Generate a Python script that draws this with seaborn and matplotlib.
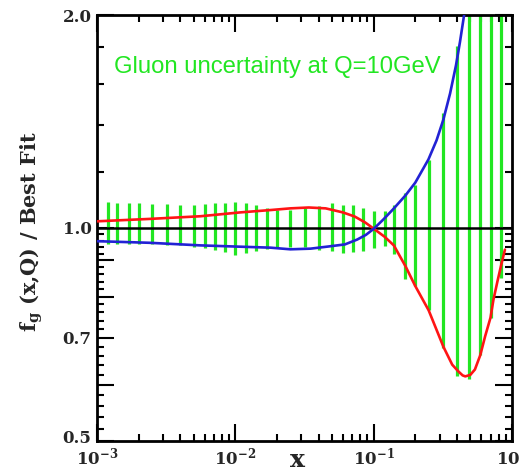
import numpy as np
import pandas as pd
import matplotlib
matplotlib.use("Agg")
import matplotlib.pyplot as plt
import matplotlib.transforms as mtransforms
import seaborn as sns
from matplotlib.ticker import FixedLocator, NullFormatter

# Sampled x-grid with the uncertainty band (lower / upper edge of each bar)
bar_x = [0.0012, 0.0014, 0.0017, 0.0020, 0.0025, 0.0032, 0.0040, 0.0050, 0.0060,
         0.0071, 0.0084, 0.010, 0.012, 0.014, 0.017, 0.020, 0.025, 0.032, 0.040,
         0.050, 0.060, 0.071, 0.084, 0.10, 0.12, 0.14, 0.17, 0.20, 0.25, 0.32,
         0.40, 0.49, 0.59, 0.70, 0.83]
bar_hi = [1.087, 1.085, 1.083, 1.083, 1.080, 1.080, 1.078, 1.078, 1.080, 1.083,
          1.085, 1.087, 1.085, 1.079, 1.068, 1.062, 1.062, 1.068, 1.073, 1.083,
          1.079, 1.076, 1.068, 1.056, 1.056, 1.076, 1.119, 1.152, 1.249, 1.455,
          1.806, 2.6, 3.4, 4.5, 6.0]
bar_lo = [0.948, 0.948, 0.948, 0.948, 0.948, 0.945, 0.945, 0.941, 0.938, 0.932,
          0.924, 0.917, 0.923, 0.927, 0.935, 0.938, 0.941, 0.941, 0.932, 0.927,
          0.923, 0.924, 0.927, 0.938, 0.943, 0.920, 0.846, 0.828, 0.767, 0.677,
          0.618, 0.611, 0.661, 0.747, 0.851]

# Two alternative fits, as ratios to the best fit
red_x = [0.001, 0.0024, 0.0056, 0.0108, 0.0178, 0.025, 0.034, 0.045, 0.060, 0.073,
         0.087, 0.100, 0.120, 0.140, 0.170, 0.200, 0.250, 0.320, 0.370, 0.410,
         0.440, 0.460, 0.500, 0.540, 0.590, 0.640, 0.700, 0.735, 0.785, 0.840, 0.890]
red_y = [1.022, 1.030, 1.039, 1.052, 1.060, 1.066, 1.069, 1.066, 1.052, 1.038,
         1.018, 0.998, 0.972, 0.945, 0.883, 0.828, 0.765, 0.679, 0.641, 0.627,
         0.619, 0.617, 0.620, 0.631, 0.661, 0.703, 0.747, 0.792, 0.840, 0.890, 0.932]

blue_x = [0.001, 0.0024, 0.0056, 0.0108, 0.018, 0.025, 0.035, 0.048, 0.062, 0.076,
          0.088, 0.100, 0.1175, 0.139, 0.170, 0.200, 0.249, 0.285, 0.319, 0.357,
          0.394, 0.421, 0.451, 0.480]
blue_y = [0.958, 0.953, 0.945, 0.941, 0.938, 0.933, 0.935, 0.942, 0.948, 0.963,
          0.978, 0.997, 1.028, 1.064, 1.112, 1.159, 1.250, 1.330, 1.422, 1.549,
          1.698, 1.832, 2.000, 2.180]

y_major = [0.5, 0.6, 0.7, 0.8, 0.9, 1.0, 2.0]
y_major_labels = ["0.5", "", "0.7", "", "", "1.0", "2.0"]
y_minor = [0.52, 0.54, 0.56, 0.58, 0.62, 0.64, 0.66, 0.68, 0.72, 0.74, 0.76, 0.78,
           0.82, 0.84, 0.86, 0.88, 0.92, 0.94, 0.96, 0.98, 1.2, 1.4, 1.6, 1.8]
x_major = [1e-3, 1e-2, 1e-1, 1.0]
x_major_labels = [r"$\mathbf{10^{-3}}$", r"$\mathbf{10^{-2}}$",
                  r"$\mathbf{10^{-1}}$", r"$\mathbf{10^{0}}$"]

GREEN = "#22e622"
RED = "#ff1414"
BLUE = "#2222d4"

sns.set_style("ticks")
plt.rcParams["font.family"] = ["DejaVu Serif"]
plt.rcParams["mathtext.fontset"] = "dejavuserif"

fig = plt.figure(figsize=(5.2, 4.75), dpi=100)
ax = fig.add_axes([0.1865, 0.0716, 0.798, 0.8968])

ax.vlines(bar_x, bar_lo, bar_hi, color=GREEN, lw=2.3, zorder=2)
ax.axhline(1.0, color="black", lw=1.8, zorder=3)

curves = pd.concat([
    pd.DataFrame({"x": red_x, "ratio": red_y, "fit": "red"}),
    pd.DataFrame({"x": blue_x, "ratio": blue_y, "fit": "blue"}),
])
sns.lineplot(data=curves, x="x", y="ratio", hue="fit",
             palette={"red": RED, "blue": BLUE}, lw=1.9, errorbar=None,
             legend=False, ax=ax, zorder=4)

ax.set_xscale("log")
ax.set_yscale("log")
ax.set_xlim(1e-3, 1.0)
ax.set_ylim(0.5, 2.0)

ax.xaxis.set_major_locator(FixedLocator(x_major))
ax.xaxis.set_minor_locator(FixedLocator(
    [m * 10.0 ** e for e in (-3, -2, -1) for m in range(2, 10)]))
ax.set_xticklabels(x_major_labels, fontsize=12)
ax.xaxis.set_minor_formatter(NullFormatter())

ax.yaxis.set_major_locator(FixedLocator(y_major))
ax.yaxis.set_minor_locator(FixedLocator(y_minor))
ax.set_yticklabels(y_major_labels, fontsize=12, fontweight="bold")
ax.yaxis.set_minor_formatter(NullFormatter())

ax.tick_params(which="both", direction="in", top=True, right=True,
               width=1.5, color="black")
ax.tick_params(which="major", length=12, pad=4)
ax.tick_params(which="minor", length=5)
ax.set_xlabel("")
ax.set_ylabel("")
for sp in ax.spines.values():
    sp.set_linewidth(2.0)
    sp.set_color("black")

# lift the bottom y label a little so it clears the x labels
fig.canvas.draw()
lift = mtransforms.ScaledTranslation(0, 3 / 72, fig.dpi_scale_trans)
bottom_lbl = ax.yaxis.get_major_ticks()[0].label1
bottom_lbl.set_transform(bottom_lbl.get_transform() + lift)

fig.text(0.219, 1 - 66.7 / 475, "Gluon uncertainty at Q=10GeV", color=GREEN,
         fontsize=17.2, family="Liberation Sans", ha="left", va="center")
fig.text(32 / 520, 1 - 232 / 475, r"f$_\mathbf{g}$ (x,Q) / Best Fit",
         rotation=90, ha="center", va="center", fontsize=15, fontweight="bold")
fig.text(298 / 520, 1 - 460 / 475, "x", ha="center", va="center",
         fontsize=18, fontweight="bold")

fig.savefig("out.png", dpi=100)
